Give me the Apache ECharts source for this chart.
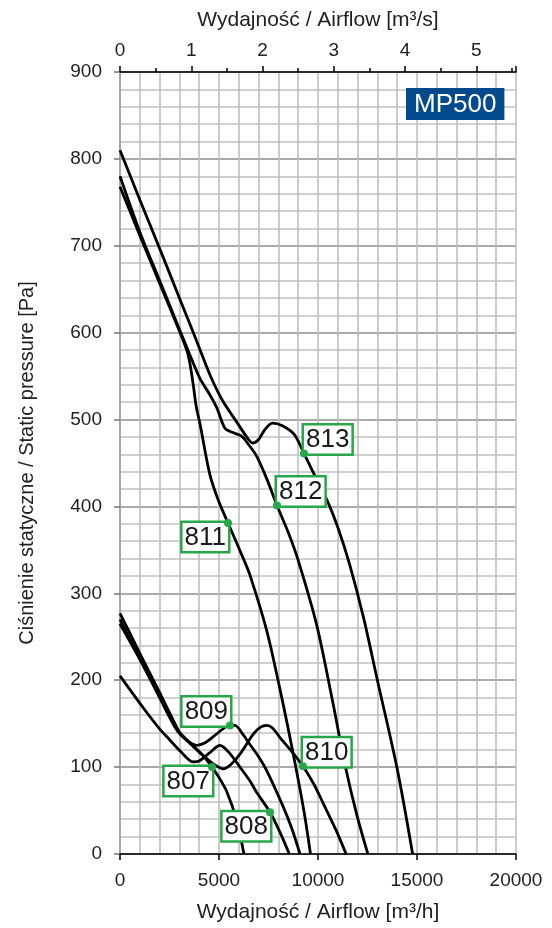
<!DOCTYPE html>
<html><head><meta charset="utf-8">
<script src="https://cdn.jsdelivr.net/npm/echarts@6/dist/echarts.min.js"></script>
<style>html,body{margin:0;padding:0;background:#fff}#c{width:552px;height:928px}</style>
</head><body><div id="c"></div>
<script>
// Curves: [airflow m3/h, static pressure Pa]
const c807 = [[0,265],[1000,224],[2000,182],[2860,144],[3300,133],[3700,124],[4210,113],[4646,100],[5000,88],[5390,72],[5890,39],[6260,0]];
const c808 = [[0,205],[1180,168],[2000,144],[2525,131],[3100,117],[3700,106],[4000,107],[4500,116],[5050,125],[5500,117],[6060,100],[6565,84],[6900,71],[7576,48],[8100,24],[8550,0]];
const c809 = [[0,270],[1000,225],[2000,180],[2860,143],[3370,131],[3870,125],[4300,128],[4710,135],[5200,144],[5556,148],[5800,148],[6200,138],[6565,126],[7000,112],[7410,96],[8250,54],[8700,28],[9090,0]];
const c810 = [[0,277],[1000,231],[2000,186],[2860,146],[3030,139],[3600,126],[4210,113],[4700,104],[5220,98],[5600,103],[6060,115],[6730,138],[7100,146],[7410,148],[7700,145],[8080,134],[8600,120],[9242,101],[9800,80],[10270,58],[10900,28],[11420,0]];
const c811 = [[0,768],[1000,712],[2000,657],[3000,602],[3400,578],[3550,562],[3700,540],[3850,515],[4040,495],[4545,436],[5000,405],[5455,381],[6230,340],[6565,321],[7410,257],[8150,182],[8750,115],[9300,48],[9620,0]];
const c812 = [[0,780],[1000,716],[2000,660],[3000,604],[3500,576],[4040,547],[4500,530],[4880,514],[5300,490],[5700,485],[6140,481],[6500,471],[6900,458],[7410,432],[7929,401],[8500,370],[9000,338],[9930,264],[10770,172],[11360,103],[11950,46],[12520,0]];
const c813 = [[0,810],[1000,753],[2000,697],[3000,640],[3600,606],[4100,577],[4630,547],[5200,521],[5900,497],[6400,480],[6700,473],[7000,477],[7300,488],[7700,496],[8200,493],[8800,483],[9293,461],[10000,428],[10500,405],[11000,376],[11600,333],[12300,272],[13000,200],[14000,98],[14780,0]];
const curves = [c807,c808,c809,c810,c811,c812,c813];

// Labelled points
const labelNames = ['807','808','809','810','811','812','813'];
const labelPoints = [[4646,100],[7576,48],[5556,148],[9242,101],[5455,381],[7929,401],[9293,461]];
// label box corner at the point: [align, verticalAlign]
const labelAnchor = [['right','top'],['right','top'],['right','bottom'],['left','bottom'],['right','top'],['left','bottom'],['left','bottom']];

const xTicks = [0,5000,10000,15000,20000];
const yTicks = [0,100,200,300,400,500,600,700,800,900];
const topTicks = [0,1,2,3,4,5];

const FONT = 'Liberation Sans, Arial, sans-serif';
const GREEN = '#27a74a';

const chart = echarts.init(document.getElementById('c'), null, {renderer:'canvas'});
const series = curves.map(d => ({
  type:'line', data:d, xAxisIndex:0, yAxisIndex:0, smooth:0.3,
  showSymbol:false, symbol:'none', lineStyle:{color:'#000', width:2.8}, z:3, silent:true
}));
series.push({
  type:'scatter', xAxisIndex:0, yAxisIndex:0, symbolSize:1, z:5, silent:true,
  itemStyle:{color:'#fff', opacity:1},
  data: labelPoints.map((p,i)=>({
    value:p,
    label:{show:true, formatter:labelNames[i], position:[0.5,0.5],
      align:labelAnchor[i][0], verticalAlign:labelAnchor[i][1],
      fontFamily:FONT, fontSize:26, lineHeight:27, color:'#1a1a1a', opacity:1,
      textBorderWidth:0, textShadowBlur:0,
      backgroundColor:'#fff', borderColor:GREEN, borderWidth:2.5, padding:[1,2,0,2]}
  }))
});
series.push({
  type:'scatter', xAxisIndex:0, yAxisIndex:0, symbolSize:8, z:10, silent:true,
  itemStyle:{color:GREEN, opacity:1}, data: labelPoints
});

chart.setOption({
  animation:false,
  backgroundColor:'#fff',
  textStyle:{fontFamily:FONT},
  title:{text:'MP500', left:406, top:88, padding:[3,8,2,8], backgroundColor:'#034a8c',
    textStyle:{color:'#fff', fontSize:26, fontWeight:'normal', fontFamily:FONT, lineHeight:27}},
  grid:{left:120, right:36, top:72, bottom:71, containLabel:false},
  xAxis:[{
    type:'value', min:xTicks[0], max:xTicks[xTicks.length-1], interval:5000, position:'bottom',
    name:'Wydajność / Airflow [m³/h]', nameLocation:'middle', nameGap:48,
    nameTextStyle:{fontSize:21, color:'#222', fontFamily:FONT},
    axisLine:{show:true, onZero:false, lineStyle:{color:'#000', width:1.5}},
    axisTick:{show:true, length:6, lineStyle:{color:'#000', width:1.5}},
    axisLabel:{fontSize:19, color:'#222', margin:17, fontFamily:FONT, formatter:v => String(v)},
    splitLine:{show:true, lineStyle:{color:'#bcbcbc', width:1.5}},
    minorTick:{show:false, splitNumber:5},
    minorSplitLine:{show:true, lineStyle:{color:'#bcbcbc', width:1.5}}
  },{
    type:'value', min:0, max:20000/3600, interval:1, position:'top',
    name:'Wydajność / Airflow [m³/s]', nameLocation:'middle', nameGap:41,
    nameTextStyle:{fontSize:21, color:'#222', fontFamily:FONT},
    axisLine:{show:true, onZero:false, lineStyle:{color:'#000', width:1.5}},
    axisTick:{show:true, length:6, lineStyle:{color:'#000', width:1.5}},
    minorTick:{show:true, splitNumber:2, length:4, lineStyle:{color:'#000', width:1.5}},
    axisLabel:{fontSize:19, color:'#222', margin:12, fontFamily:FONT, showMaxLabel:false,
      formatter:v => topTicks.indexOf(v) >= 0 ? String(v) : ''},
    splitLine:{show:false}
  }],
  yAxis:[{
    type:'value', min:yTicks[0], max:yTicks[yTicks.length-1], interval:100,
    name:'Ciśnienie statyczne / Static pressure [Pa]', nameLocation:'middle', nameGap:83,
    nameTextStyle:{fontSize:20, color:'#222', fontFamily:FONT},
    axisLine:{show:true, lineStyle:{color:'#999', width:1.5}},
    axisTick:{show:true, length:6, lineStyle:{color:'#777', width:1.5}},
    axisLabel:{fontSize:19, color:'#222', margin:18, fontFamily:FONT},
    splitLine:{show:true, lineStyle:{color:'#8e8e8e', width:1.5}},
    minorSplitLine:{show:true, lineStyle:{color:'#c2c2c2', width:1.5}},
    minorTick:{show:false, splitNumber:5}
  }],
  series: series
});
</script></body></html>
